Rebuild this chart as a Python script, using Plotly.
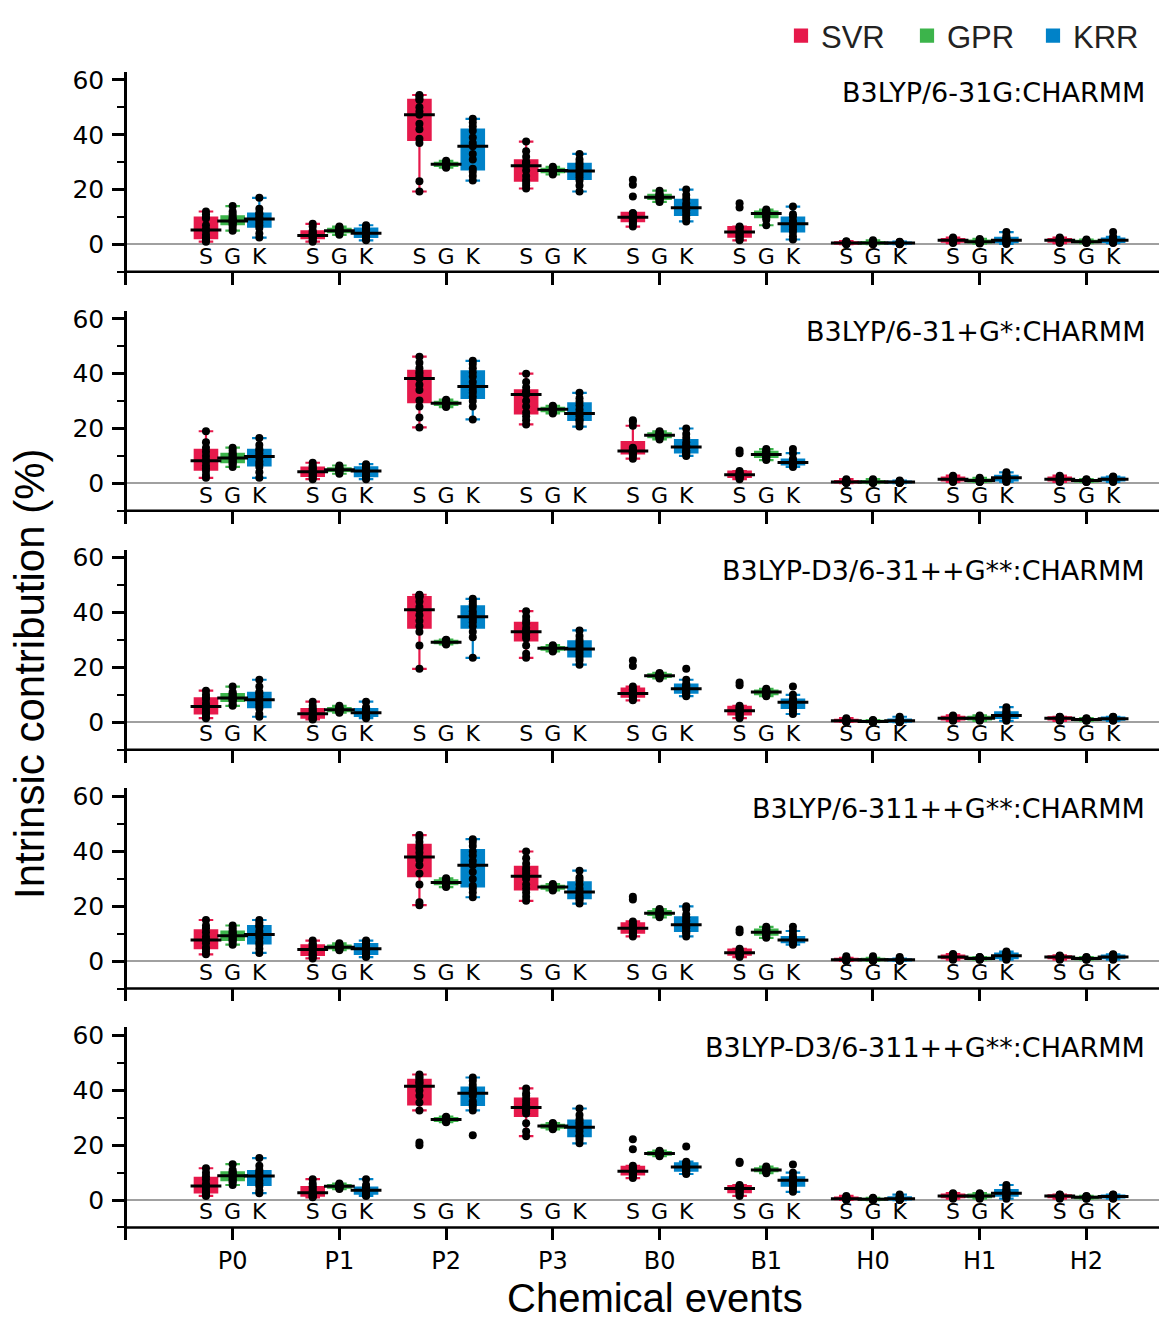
import numpy as np
import plotly.graph_objects as go

EVENTS = ["P0", "P1", "P2", "P3", "B0", "B1", "H0", "H1", "H2"]
METHODS = ["SVR", "GPR", "KRR"]
LETTERS = ["S", "G", "K"]
COLORS = ["#e6194b", "#3cb44b", "#0082c8"]
PANEL_TITLES = [
    "B3LYP/6-31G:CHARMM",
    "B3LYP/6-31+G*:CHARMM",
    "B3LYP-D3/6-31++G**:CHARMM",
    "B3LYP/6-311++G**:CHARMM",
    "B3LYP-D3/6-311++G**:CHARMM",
]

# ---- panel 1: B3LYP/6-31G:CHARMM ----
SVR_1 = [
    [1, 1.5, 2, 2.5, 3.5, 5, 5.5, 7, 9.5, 10, 11, 12],
    [1, 1.5, 2, 2.5, 3, 3, 3.5, 4, 4.5, 5, 6.5, 7.5],
    [19.3, 23, 37, 38.5, 42, 44, 47.3, 48.5, 50, 52.7, 53, 54, 54.5],
    [20.4, 21.5, 22.5, 23.5, 25, 27, 28.7, 29.5, 30, 30.2, 32, 34, 37.5],
    [6.5, 7.5, 8, 8.5, 9, 9.5, 9.8, 10, 10.5, 11.3, 11.5, 17.5, 21.8, 23.6],
    [1.5, 2, 2.5, 3, 3.5, 4, 4.5, 5, 6, 6.2, 6.5, 13.5, 15],
    [0.1, 0.2, 0.3, 0.4, 0.5, 0.5, 0.6, 0.7, 0.8, 1.0, 1.2],
    [0.5, 0.8, 1.0, 1.2, 1.4, 1.5, 1.6, 1.8, 2.0, 2.2, 2.5],
    [0.5, 0.8, 1.0, 1.2, 1.4, 1.5, 1.6, 1.8, 2.0, 2.2, 2.5],
]
GPR_1 = [
    [5, 6, 7, 7.5, 8, 8.5, 8.5, 9, 9.5, 10, 11, 12, 14],
    [3.5, 4, 4.3, 4.6, 4.8, 5, 5, 5.2, 5.5, 5.8, 6.2, 6.5],
    [28, 28.3, 28.6, 28.8, 29, 29.2, 29.4, 29.6, 29.8, 30, 30.5],
    [25.5, 26, 26.3, 26.5, 26.8, 27, 27.2, 27.4, 27.6, 28, 28.3],
    [15.5, 16, 16.5, 16.8, 17, 17.2, 17.5, 17.8, 18.2, 18.6, 19.6],
    [7, 9, 9.8, 10.3, 10.8, 11.3, 11.5, 11.8, 12, 12.3, 12.7],
    [0.1, 0.2, 0.3, 0.4, 0.5, 0.5, 0.6, 0.7, 0.9, 1.1, 1.5],
    [0.3, 0.5, 0.7, 0.8, 0.9, 1.0, 1.1, 1.2, 1.4, 1.6, 2.0],
    [0.5, 0.7, 0.8, 0.9, 1.0, 1.0, 1.1, 1.2, 1.3, 1.5, 1.8],
]
KRR_1 = [
    [2.5, 4, 6, 7, 8, 9, 9.5, 10, 11, 11.5, 13, 17],
    [1.5, 2, 2.5, 3, 3.5, 4, 4.2, 5, 5.5, 6, 6.5, 7],
    [23.3, 25, 26.5, 27.6, 31, 33, 35.8, 37, 39, 41.5, 43, 44.5, 45.8],
    [19.3, 21.5, 23.3, 24.5, 25.5, 26.5, 27, 28, 29, 29.8, 31, 33],
    [8.4, 9.5, 10.5, 11.5, 12.5, 13.4, 14, 15, 16.7, 18, 20],
    [1.8, 3, 4.5, 5.5, 6.5, 7.5, 8, 8.5, 10.2, 11, 13.8],
    [0.1, 0.2, 0.3, 0.3, 0.4, 0.5, 0.5, 0.6, 0.7, 0.8, 1.0],
    [0.2, 0.5, 0.8, 1.0, 1.2, 1.5, 1.8, 2.0, 2.5, 3.2, 4.5],
    [0.5, 0.7, 0.9, 1.1, 1.3, 1.5, 1.7, 1.9, 2.2, 2.8, 4.5],
]

# ---- panel 2: B3LYP/6-31+G*:CHARMM ----
SVR_2 = [
    [2, 3, 4.5, 5.5, 6.5, 8, 8.5, 10, 11.5, 13, 15, 19],
    [1.5, 2, 2.5, 3, 3.5, 4, 4.5, 5, 5.5, 6, 6.5, 7.5],
    [20.4, 24, 28, 30.2, 34, 36, 38.2, 39, 40, 40.7, 42, 44, 46.2],
    [21.5, 23, 24.5, 25.8, 28, 30, 32.4, 32.8, 33, 33.5, 35, 37, 40],
    [9, 10, 10.5, 11, 11.3, 11.5, 11.8, 12.2, 12.5, 13, 21, 22.5, 23],
    [1.5, 2, 2.2, 2.5, 2.8, 3, 3.2, 3.5, 4, 4.5, 11, 12],
    [0.1, 0.2, 0.3, 0.4, 0.5, 0.5, 0.6, 0.7, 0.9, 1.1, 1.5],
    [0.5, 0.8, 1.0, 1.2, 1.4, 1.5, 1.7, 1.9, 2.1, 2.4, 2.8],
    [0.5, 0.8, 1.0, 1.2, 1.4, 1.5, 1.7, 1.9, 2.1, 2.4, 2.8],
]
GPR_2 = [
    [6, 7, 7.5, 8, 8.5, 9, 9.5, 10, 10.5, 11, 12, 13],
    [3.5, 4, 4.5, 4.7, 4.9, 5, 5.1, 5.3, 5.5, 6, 6.5],
    [27.8, 28.2, 28.5, 28.8, 29, 29.2, 29.4, 29.6, 29.8, 30, 30.5],
    [25.5, 26, 26.3, 26.5, 26.8, 27, 27.2, 27.4, 27.6, 28, 28.3],
    [16, 16.5, 16.8, 17, 17.3, 17.5, 17.8, 18, 18.3, 18.7, 19],
    [8.5, 9, 9.5, 10, 10.3, 10.5, 10.8, 11.2, 11.6, 12, 12.5],
    [0.1, 0.2, 0.3, 0.4, 0.5, 0.5, 0.6, 0.7, 0.9, 1.1, 1.5],
    [0.5, 0.6, 0.7, 0.8, 0.9, 1.0, 1.1, 1.2, 1.4, 1.6, 2.0],
    [0.5, 0.6, 0.7, 0.8, 0.9, 1.0, 1.0, 1.1, 1.2, 1.3, 1.5],
]
KRR_2 = [
    [2, 4, 6, 7, 8, 9.5, 10, 11, 12, 12.5, 14, 16.5],
    [1.5, 2, 2.5, 3, 4, 4.5, 5, 5.5, 6, 6.5, 7],
    [23.3, 28, 30, 31.6, 33, 34, 35.3, 37, 39, 40.4, 42, 43.5, 44.7],
    [20.7, 22, 23, 23.3, 24.5, 25.2, 25.8, 27, 28.5, 29.8, 31, 33],
    [10, 10.5, 11, 11.5, 12, 13, 13.5, 14, 15, 16.5, 18, 20],
    [6, 6.5, 6.8, 7, 7.3, 7.5, 7.7, 8, 8.3, 9, 11, 12.5],
    [0.1, 0.2, 0.3, 0.3, 0.4, 0.5, 0.5, 0.6, 0.7, 0.8, 1.0],
    [0.5, 0.8, 1.0, 1.3, 1.6, 2.0, 2.2, 2.5, 2.8, 3.2, 4.0],
    [0.5, 0.8, 1.0, 1.2, 1.4, 1.5, 1.7, 1.9, 2.1, 2.3, 2.5],
]

# ---- panel 3: B3LYP-D3/6-31++G**:CHARMM ----
SVR_3 = [
    [1.5, 2, 3, 3.5, 4.5, 5.5, 6, 7, 8.5, 9, 10, 11.5],
    [1, 1.2, 1.5, 1.8, 2.2, 3, 3.2, 3.8, 4.5, 5, 6, 7.5],
    [19.5, 28, 33, 35, 37, 39, 41, 42, 44, 45.5, 46, 46.3, 46.5],
    [23.5, 25, 28, 30.5, 31.5, 32.5, 33, 33.5, 34.5, 36, 37, 38.5, 40.5],
    [8, 8.5, 9, 9.5, 10, 10, 10.5, 11, 11.5, 12, 13, 20.5, 22.5],
    [1.5, 2, 2.5, 3, 3.5, 4, 4.2, 4.5, 5, 5.5, 6, 13.5, 14.5],
    [0.1, 0.2, 0.3, 0.4, 0.5, 0.5, 0.6, 0.7, 0.9, 1.1, 1.5],
    [0.5, 0.8, 1.0, 1.2, 1.4, 1.5, 1.6, 1.8, 2.0, 2.2, 2.5],
    [0.5, 0.8, 1.0, 1.1, 1.3, 1.5, 1.5, 1.6, 1.8, 1.9, 2.0],
]
GPR_3 = [
    [6, 6.5, 7.5, 8, 8.3, 8.6, 9, 9.5, 10, 10.5, 11, 13],
    [3.5, 3.8, 4, 4.2, 4.4, 4.6, 4.8, 5, 5.2, 5.5, 6],
    [28.4, 28.6, 28.8, 29, 29.1, 29.2, 29.3, 29.5, 29.7, 29.9, 30.1],
    [25.8, 26.1, 26.4, 26.6, 26.8, 27, 27.1, 27.3, 27.5, 27.8, 28.1],
    [16, 16.3, 16.5, 16.7, 16.9, 17, 17.1, 17.3, 17.5, 17.7, 18],
    [9.5, 9.8, 10.2, 10.5, 10.8, 11, 11.2, 11.4, 11.6, 11.8, 12.2],
    [0.0, 0.1, 0.1, 0.2, 0.2, 0.3, 0.3, 0.4, 0.5, 0.6, 0.8],
    [0.5, 0.8, 1.0, 1.2, 1.4, 1.5, 1.6, 1.8, 2.0, 2.2, 2.5],
    [0.5, 0.6, 0.7, 0.8, 0.9, 1.0, 1.0, 1.1, 1.2, 1.3, 1.5],
]
KRR_3 = [
    [2, 3, 5, 6, 7, 8, 8.5, 9.5, 10.5, 11, 13, 15.5],
    [1.5, 2, 2.2, 2.5, 3, 3.5, 3.8, 4.2, 5, 5.5, 7.5],
    [23.5, 31, 33, 35, 36.5, 37.5, 38.5, 39.5, 40.5, 42, 43, 44, 45],
    [21, 22.5, 23.5, 24.5, 25.5, 26.5, 27, 28, 29, 30, 31.5, 33.5],
    [9.5, 10, 10.5, 11, 11.5, 12, 12.5, 13, 13.5, 14, 15.5, 19.5],
    [3, 4, 5, 5.5, 6.5, 7, 7.5, 7.8, 8, 8.5, 10, 13],
    [0.0, 0.1, 0.2, 0.3, 0.4, 0.5, 0.6, 0.8, 1.0, 1.4, 2.0],
    [0.5, 1.0, 1.5, 1.8, 2.2, 2.5, 2.8, 3.2, 3.8, 4.5, 5.5],
    [0.5, 0.7, 0.9, 1.0, 1.2, 1.3, 1.4, 1.5, 1.7, 1.9, 2.0],
]

# ---- panel 4: B3LYP/6-311++G**:CHARMM ----
SVR_4 = [
    [2.5, 3.5, 4.5, 5, 6.5, 7.5, 8, 9, 10.5, 12, 13, 15],
    [1, 1.5, 2, 2.5, 3, 4, 4.5, 5, 5.5, 6, 6.5, 7.5],
    [20.4, 21.5, 28, 32, 35, 37, 38, 39.5, 41, 42, 43.5, 45, 46],
    [22, 23.5, 25, 26.5, 28, 30, 31, 32, 33, 34, 35.5, 37.5, 40],
    [9, 9.5, 10, 10.5, 11, 11.5, 12, 12.5, 13, 13.5, 14.5, 22.5, 23.5],
    [1.5, 2, 2.2, 2.5, 2.8, 3, 3.2, 3.5, 4, 4.5, 10.5, 11.5],
    [0.1, 0.2, 0.3, 0.4, 0.5, 0.5, 0.6, 0.7, 0.9, 1.2, 1.8],
    [0.5, 0.8, 1.0, 1.2, 1.4, 1.5, 1.7, 1.9, 2.1, 2.3, 2.6],
    [0.5, 0.8, 1.0, 1.2, 1.3, 1.5, 1.6, 1.7, 1.8, 1.9, 2.1],
]
GPR_4 = [
    [6, 7, 7.5, 8, 8.5, 9, 9.5, 10, 10.5, 11, 12, 13],
    [4, 4.3, 4.6, 4.8, 5, 5.1, 5.2, 5.4, 5.7, 6, 6.5],
    [27, 27.5, 28, 28.3, 28.5, 28.7, 29, 29.2, 29.5, 29.8, 30.2],
    [25.8, 26.1, 26.4, 26.6, 26.8, 27, 27.1, 27.3, 27.5, 27.8, 28.1],
    [16, 16.5, 16.8, 17, 17.3, 17.5, 17.8, 18, 18.3, 18.7, 19],
    [8.5, 9, 9.5, 10, 10.3, 10.5, 10.8, 11.2, 11.6, 12, 12.5],
    [0.1, 0.2, 0.3, 0.4, 0.5, 0.5, 0.6, 0.7, 0.9, 1.2, 1.8],
    [0.5, 0.6, 0.7, 0.8, 0.9, 1.0, 1.1, 1.2, 1.3, 1.4, 1.5],
    [0.5, 0.6, 0.7, 0.8, 0.9, 1.0, 1.0, 1.1, 1.2, 1.3, 1.5],
]
KRR_4 = [
    [3, 4.5, 6, 7, 8.5, 9.5, 10, 11, 12.5, 13, 14, 15],
    [1.5, 2, 2.5, 3, 4, 4.5, 5, 5.5, 6.5, 7, 7.5],
    [23.3, 25, 26.5, 27.5, 30, 32.5, 35, 36.5, 38.5, 40, 42, 43.5, 44.5],
    [21, 22, 22.8, 23.2, 24, 25, 25.5, 26.5, 28, 29.5, 30.5, 33],
    [9, 10, 10.5, 11, 12, 12.5, 13, 13.5, 14.5, 15, 16, 17, 19, 20],
    [6, 6.5, 6.8, 7, 7.3, 7.5, 7.7, 8, 8.3, 8.5, 9.5, 11, 12.5],
    [0.1, 0.2, 0.3, 0.3, 0.4, 0.5, 0.5, 0.6, 0.7, 0.9, 1.5],
    [0.5, 0.8, 1.0, 1.3, 1.6, 2.0, 2.2, 2.5, 2.8, 3.1, 3.5],
    [0.5, 0.8, 1.0, 1.2, 1.4, 1.5, 1.7, 1.9, 2.1, 2.3, 2.5],
]

# ---- panel 5: B3LYP-D3/6-311++G**:CHARMM ----
SVR_5 = [
    [1.5, 2, 2.5, 3, 4, 5, 5.2, 6, 7.5, 8.7, 10, 11.6],
    [1, 1.2, 1.5, 1.7, 2, 2.5, 2.8, 3.5, 4.4, 5, 6, 7.6],
    [20, 21, 32.7, 35.6, 38, 40, 41.5, 42.5, 43, 43.6, 44.5, 45, 45.8],
    [23.3, 25, 28, 31.6, 32.5, 33, 33.8, 34.5, 35.5, 36.7, 38, 39, 40.7],
    [8, 8.7, 9, 9.5, 10, 10.2, 10.5, 11, 11.5, 12, 12.5, 18.5, 22.2],
    [1.5, 2, 2.5, 3, 3.5, 4, 4.2, 4.5, 4.8, 5, 5.5, 13.5, 14],
    [0.1, 0.2, 0.3, 0.4, 0.5, 0.5, 0.6, 0.7, 0.9, 1.1, 1.5],
    [0.5, 0.8, 1.0, 1.2, 1.4, 1.5, 1.6, 1.8, 2.0, 2.2, 2.5],
    [0.5, 0.8, 1.0, 1.1, 1.3, 1.5, 1.5, 1.6, 1.8, 1.9, 2.0],
]
GPR_5 = [
    [5.5, 6.5, 7, 7.5, 8, 8.7, 9, 9.5, 10, 10.2, 11, 13.1],
    [4, 4.3, 4.5, 4.7, 4.9, 5, 5.1, 5.3, 5.5, 5.8, 6],
    [28.4, 28.6, 28.8, 29, 29.2, 29.4, 29.5, 29.7, 29.9, 30.1, 30.4],
    [25.8, 26.1, 26.4, 26.6, 26.8, 27, 27.1, 27.3, 27.5, 27.8, 28.1],
    [16, 16.3, 16.5, 16.7, 16.9, 17, 17.1, 17.3, 17.5, 17.7, 18],
    [9.8, 10.2, 10.5, 10.7, 10.9, 11, 11.2, 11.4, 11.6, 11.8, 12.2],
    [0.0, 0.1, 0.1, 0.2, 0.2, 0.3, 0.3, 0.4, 0.5, 0.6, 0.8],
    [0.5, 0.8, 1.0, 1.2, 1.4, 1.5, 1.6, 1.8, 2.0, 2.2, 2.5],
    [0.5, 0.6, 0.7, 0.8, 0.9, 1.0, 1.0, 1.1, 1.2, 1.3, 1.5],
]
KRR_5 = [
    [2.5, 3.5, 5, 6, 7, 8.5, 9, 9.5, 10.2, 11, 12.5, 15.3],
    [1.5, 1.8, 2.2, 2.6, 3, 3.6, 3.8, 4.2, 4.7, 5.5, 7.6],
    [23.6, 32.7, 34, 34.9, 36, 38, 39, 39.5, 40, 40.7, 42, 43.5, 44.7],
    [20.7, 22, 23, 23.6, 25, 26.2, 27, 27.8, 28.5, 29.5, 31, 33.4],
    [9.5, 10, 10.5, 11, 11.5, 12, 12.2, 12.8, 13.2, 13.5, 14, 19.5],
    [3, 4, 5, 5.5, 6.5, 7, 7.5, 7.8, 8, 8.5, 10, 13],
    [0.0, 0.1, 0.2, 0.3, 0.4, 0.5, 0.6, 0.8, 1.0, 1.4, 2.0],
    [0.5, 1.0, 1.5, 1.8, 2.2, 2.5, 2.8, 3.2, 3.8, 4.5, 5.5],
    [0.5, 0.7, 0.9, 1.0, 1.2, 1.3, 1.4, 1.5, 1.7, 1.9, 2.0],
]

PANELS = [
    [SVR_1, GPR_1, KRR_1],
    [SVR_2, GPR_2, KRR_2],
    [SVR_3, GPR_3, KRR_3],
    [SVR_4, GPR_4, KRR_4],
    [SVR_5, GPR_5, KRR_5],
]

# ---------------- layout constants ----------------
W, H = 1159, 1319
ML = 127
TOP0, STEP, PH = 66, 240, 214
OFFS = [-0.25, 0.0, 0.25]
BOXW = 0.21
DEJA = "DejaVu Sans"
LIB = "Liberation Sans"

fig = go.Figure()
shapes = []
annotations = []

for k, panel in enumerate(PANELS):
    sfx = "" if k == 0 else str(k + 1)
    xref, yref = "x" + sfx, "y" + sfx
    for m, samples in enumerate(panel):
        xs, ys = [], []
        for i, s in enumerate(samples):
            xs += [i + OFFS[m]] * len(s)
            ys += list(s)
        fig.add_trace(go.Box(
            x=xs, y=ys, name=METHODS[m], legendgroup=METHODS[m],
            showlegend=(k == 0), width=BOXW,
            fillcolor=COLORS[m], line=dict(color=COLORS[m], width=2.2),
            whiskerwidth=0.65, boxpoints="all", jitter=0, pointpos=0,
            marker=dict(color="black", size=8),
            xaxis=xref, yaxis=yref, hoverinfo="skip",
        ))
    # medians in black
    mx, my = [], []
    for m, samples in enumerate(panel):
        for i, s in enumerate(samples):
            mx.append(i + OFFS[m])
            my.append(float(np.median(s)))
    fig.add_trace(go.Scatter(
        x=mx, y=my, mode="markers", showlegend=False, hoverinfo="skip",
        marker=dict(symbol="line-ew", size=22, line=dict(width=3, color="black")),
        xaxis=xref, yaxis=yref,
    ))
    # S G K labels
    lx, lt = [], []
    for i in range(len(EVENTS)):
        for m in range(3):
            lx.append(i + OFFS[m])
            lt.append(LETTERS[m])
    fig.add_trace(go.Scatter(
        x=lx, y=[-5.0] * len(lx), mode="text", text=lt, showlegend=False,
        hoverinfo="skip", textposition="middle center",
        textfont=dict(family=DEJA, size=22, color="black"),
        xaxis=xref, yaxis=yref,
    ))

    top = TOP0 + k * STEP
    bot = top + PH
    dom = [1 - bot / H, 1 - top / H]
    xa = dict(
        domain=[0, 1], anchor=yref, range=[-0.99, 8.68],
        tickmode="array", tickvals=list(range(len(EVENTS))), ticktext=EVENTS,
        showticklabels=(k == len(PANELS) - 1),
        ticks="inside", ticklen=13, tickwidth=2.5, tickcolor="black",
        showline=False, showgrid=False, zeroline=False,
        tickfont=dict(family=DEJA, size=24, color="black"),
        ticklabelstandoff=4,
    )
    ya = dict(
        domain=dom, anchor=xref, range=[-14.7, 63],
        tickmode="array", tickvals=[0, 20, 40, 60],
        ticks="outside", ticklen=12, tickwidth=2.5, tickcolor="black",
        showline=True, linecolor="black", linewidth=2.5,
        showgrid=False, zeroline=True, zerolinecolor="#a0a0a0", zerolinewidth=1.6,
        minor=dict(tick0=0, dtick=10, ticks="outside", ticklen=7,
                   tickwidth=2, tickcolor="black", showgrid=False),
        tickfont=dict(family=DEJA, size=25, color="black"),
        ticklabelstandoff=3,
    )
    fig.update_layout(**{"xaxis" + sfx: xa, "yaxis" + sfx: ya})

    shapes.append(dict(type="line", xref="paper", yref=yref,
                       x0=0, x1=1, y0=-10, y1=-10,
                       line=dict(color="black", width=2.5)))
    annotations.append(dict(
        text=PANEL_TITLES[k], xref="paper", yref=yref + " domain",
        x=(1147 - ML) / (W - ML), y=1, xanchor="right", yanchor="top",
        yshift=-3, showarrow=False,
        font=dict(family=DEJA, size=27, color="black"),
    ))

annotations.append(dict(
    text="Intrinsic contribution (%)", xref="paper", yref="paper",
    x=(30 - ML) / (W - ML), y=1 - 671 / H, xanchor="center", yanchor="middle",
    textangle=-90, showarrow=False,
    font=dict(family=LIB, size=42, color="black"),
))
annotations.append(dict(
    text="Chemical events", xref="paper", yref="paper",
    x=(655 - ML) / (W - ML), y=0, xanchor="center", yanchor="bottom",
    yshift=-3, showarrow=False, font=dict(family=LIB, size=40, color="black"),
))

fig.update_layout(
    width=W, height=H,
    margin=dict(l=ML, r=0, t=0, b=0),
    paper_bgcolor="white", plot_bgcolor="white",
    boxmode="overlay",
    shapes=shapes, annotations=annotations,
    legend=dict(orientation="h", x=1, xanchor="right",
                y=1 - 3 / H, yanchor="top",
                font=dict(family=LIB, size=31, color="#222222"),
                bgcolor="rgba(0,0,0,0)", itemwidth=30,
                entrywidth=81, entrywidthmode="pixels"),
)

fig.write_html("out.html")
